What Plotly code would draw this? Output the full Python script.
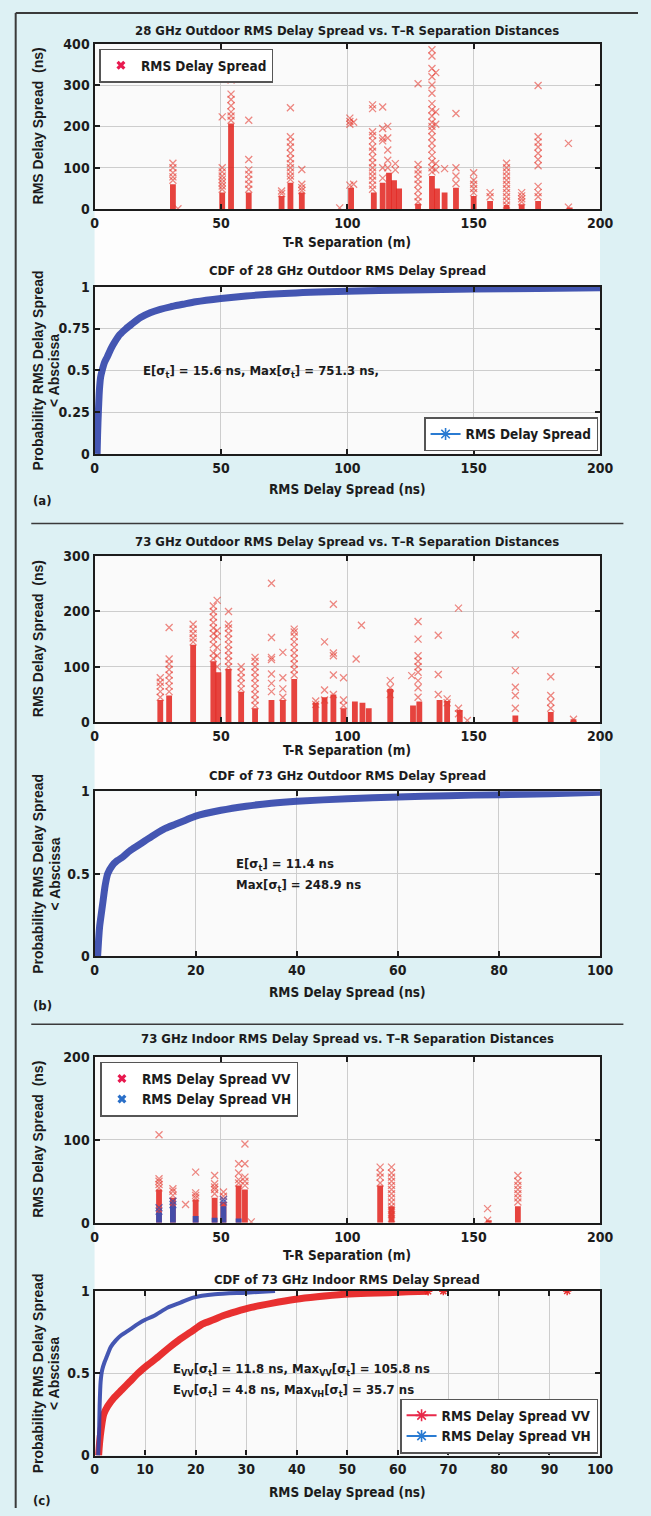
import plotly.graph_objects as go

# ---------------- data ----------------
# Panel (a) top: 28 GHz outdoor, dense lower parts of the columns
p28_bar_dist = [31, 50.5, 54, 61, 74, 77.5, 82, 101.5, 110.5, 114, 116.5, 118.5, 120.5,
                128, 133.5, 135.5, 138.5, 143, 150, 156.5, 163, 169, 175.5, 188]
p28_bar_top = [60, 40, 207, 40, 32, 64, 40, 52, 40, 64, 88, 70, 50,
               13, 80, 50, 40, 52, 32, 20, 10, 12, 20, 4]
# sparse single measurements above the dense parts
p28_mark_dist = [31, 33, 50.5, 54, 61, 74, 77.5, 82, 97, 101, 102.5, 110, 114, 116, 119,
                 128, 133.5, 135, 138.5, 143, 150, 156.5, 163, 169, 175.5, 187.5]
p28_mark_vals = [
    [70, 78, 88, 100, 111], [1], [48, 56, 64, 72, 80, 90, 100, 223],
    [215, 225, 235, 250, 265, 278, 312], [48, 60, 72, 84, 95, 120, 215], [38, 44],
    [72, 80, 90, 100, 110, 122, 135, 150, 162, 175, 245], [45, 52, 60, 96], [3],
    [58, 205, 212, 220], [60, 210],
    [48, 58, 70, 80, 90, 100, 112, 125, 140, 150, 165, 178, 187, 243, 252],
    [75, 100, 165, 172, 195, 247], [100, 118, 143, 172, 200], [95, 110],
    [18, 30, 45, 60, 72, 85, 95, 108, 303],
    [90, 100, 115, 130, 145, 160, 175, 190, 200, 210, 225, 240, 255, 280, 300, 320, 340, 370, 385],
    [95, 110, 205, 235, 330], [98], [62, 80, 100, 231], [40, 50, 60, 70, 88], [30, 40],
    [10, 20, 30, 40, 50, 60, 70, 80, 90, 100, 111], [18, 25, 32, 40],
    [30, 40, 55, 105, 120, 135, 150, 162, 175, 299], [5, 159]]

# Panel (a) bottom: CDF of 28 GHz outdoor RMS delay spread
cdf28_x = [1.0, 1.2, 1.5, 1.9, 2.4, 3.0, 4.0, 5.0, 6.5, 8.0, 10, 12.5, 15, 18, 22, 26,
           30, 35, 40, 50, 60, 75, 100, 125, 150, 175, 200]
cdf28_p = [0.0, 0.12, 0.25, 0.38, 0.46, 0.5, 0.55, 0.58, 0.63, 0.67, 0.714, 0.75, 0.78,
           0.815, 0.845, 0.865, 0.88, 0.895, 0.91, 0.93, 0.945, 0.96, 0.973, 0.98, 0.986,
           0.99, 0.994]

# Panel (b) top: 73 GHz outdoor
p73_bar_dist = [26, 29.5, 39, 47, 49, 53, 58, 63.5, 70, 74.5, 79, 87.5, 91, 94.5, 98.5,
                103, 106, 108.5, 117, 126, 128.5, 136.5, 139.5, 144.5, 166.5, 180.5, 189.5]
p73_bar_top = [40, 48, 140, 110, 90, 96, 55, 25, 40, 40, 78, 35, 45, 50, 25,
               37, 35, 25, 60, 30, 37, 40, 38, 22, 12, 18, 5]
p73_mark_dist = [26, 29.5, 39, 47, 48.5, 53, 58, 63.5, 70, 74.5, 79, 87.5, 91, 94.5, 98.5,
                 103.5, 105.6, 117, 125.5, 128, 136, 139.5, 144, 147.5, 166.5, 180.5, 189.5]
p73_mark_vals = [
    [45, 55, 65, 72, 80], [55, 65, 75, 85, 95, 105, 114, 171], [145, 152, 160, 168, 177],
    [115, 125, 140, 150, 160, 170, 180, 190, 200, 210], [100, 120, 135, 155, 165, 220],
    [100, 110, 120, 130, 140, 150, 160, 170, 177, 200], [60, 70, 80, 90, 100],
    [30, 40, 50, 60, 70, 80, 90, 100, 110, 117], [55, 70, 87, 113, 117, 153, 251],
    [45, 60, 80, 126], [85, 95, 105, 115, 125, 135, 145, 155, 163, 168], [32, 38],
    [40, 58, 145], [50, 85, 120, 125, 213], [30, 40, 80], [114], [175], [50, 62, 75], [84],
    [45, 62, 75, 90, 100, 110, 120, 150, 182], [50, 86, 157], [35, 42], [15, 25, 206], [3],
    [25, 48, 63, 93, 158], [25, 36, 48, 82], [5]]

# Panel (b) bottom: CDF of 73 GHz outdoor
cdf73_x = [0.6, 0.8, 1.0, 1.3, 1.7, 2.1, 2.6, 3.5, 4.5, 5.5, 7, 8.5, 10, 12, 14, 16, 18,
           20, 25, 30, 35, 40, 50, 60, 70, 80, 90, 100]
cdf73_p = [0.0, 0.1, 0.18, 0.25, 0.34, 0.43, 0.5, 0.55, 0.58, 0.6, 0.64, 0.67, 0.7, 0.74,
           0.775, 0.8, 0.825, 0.85, 0.885, 0.91, 0.928, 0.94, 0.955, 0.966, 0.974, 0.98,
           0.986, 0.994]

# Panel (c) top: 73 GHz indoor, VV and VH
pin_vv_bar_dist = [25.5, 31, 40, 47.5, 51, 57, 59.5, 113, 117.5, 156, 167.5]
pin_vv_bar_top = [40, 30, 28, 30, 25, 45, 40, 45, 20, 3, 20]
pin_vh_bar_dist = [25.5, 31, 40, 47.5, 51, 57]
pin_vh_bar_top = [12, 20, 8, 6, 20, 5]
pin_vv_mark_dist = [25.5, 31, 36, 40, 47.5, 51, 57, 59.5, 62, 113, 117.5, 155.5, 167.5]
pin_vv_mark_vals = [
    [42, 46, 50, 53, 106], [33, 38, 41], [22], [30, 33, 36, 61], [35, 40, 43, 47, 57],
    [28, 32, 37], [48, 52, 60, 71], [45, 50, 55, 71, 95], [1], [48, 55, 60, 67],
    [5, 10, 15, 20, 25, 30, 35, 40, 45, 50, 55, 60, 67], [3, 17], [25, 30, 35, 40, 45, 50, 57]]
pin_vh_mark_dist = [25.5, 31, 51]
pin_vh_mark_vals = [[14, 18], [22, 26], [25, 28]]

# Panel (c) bottom: CDF of 73 GHz indoor
cdf_vv_x = [0.8, 1.0, 1.3, 1.8, 2.6, 3.8, 5.4, 7, 8.6, 10.5, 12.6, 14.5, 16.6, 19, 21.4,
            23.5, 25.4, 28, 31, 35, 39.8, 44, 49.4, 54, 58, 62, 66]
cdf_vv_p = [0.0, 0.08, 0.16, 0.25, 0.3, 0.35, 0.4, 0.45, 0.5, 0.55, 0.6, 0.65, 0.7, 0.75,
            0.8, 0.825, 0.85, 0.875, 0.9, 0.925, 0.95, 0.965, 0.98, 0.987, 0.99, 0.995, 0.998]
cdf_vv_tail_x = [66, 69, 93.5]
cdf_vv_tail_p = [0.998, 0.999, 1.0]
cdf_vh_x = [0.7, 0.9, 1.0, 1.2, 1.5, 2.0, 2.4, 3.2, 4.2, 5.2, 6.2, 7.4, 8.6, 10, 11.8,
            14.5, 17, 19.5, 23.8, 30, 35.7]
cdf_vh_p = [0.0, 0.15, 0.3, 0.45, 0.52, 0.57, 0.6, 0.66, 0.7, 0.73, 0.75, 0.775, 0.8,
            0.825, 0.85, 0.9, 0.93, 0.96, 0.98, 0.99, 1.0]

# ---------------- styling / layout ----------------
W, H = 651, 1516
PX0, PX1 = 93, 612
RECTS = [(36, 203.3), (281.7, 450.7), (554, 721.7), (791.7, 958.3), (1060, 1227.7), (1296.7, 1463)]
COND = "Liberation Sans Narrow, Arial Narrow, DejaVu Sans Condensed, sans-serif"
REG = "Liberation Sans, Arial, sans-serif"
INK = "#1c1c1c"
BG = "#ddf1f4"
RED_BAR = "rgba(226,34,28,0.85)"
RED_X = "rgba(228,58,48,0.6)"
BLUE_BAR = "rgba(52,78,180,0.9)"
BLUE_X = "rgba(52,78,180,0.7)"
CDF_BLUE = "rgba(48,68,170,0.9)"
CDF_RED = "rgba(230,30,30,0.92)"


def fx(px):
    return px / W


def fy(py):
    return 1 - py / H


fig = go.Figure()


def expand(dists, vals):
    xs, ys = [], []
    for d, vs in zip(dists, vals):
        for v in vs:
            xs.append(d)
            ys.append(v)
    return xs, ys


def add_bars(dists, tops, color, ax):
    fig.add_trace(go.Bar(x=dists, y=tops, width=2.3, marker=dict(color=color, line=dict(width=0)),
                         xaxis="x" + ax, yaxis="y" + ax, showlegend=False, hoverinfo="skip"))


def add_marks(dists, vals, color, ax):
    xs, ys = expand(dists, vals)
    fig.add_trace(go.Scatter(x=xs, y=ys, mode="markers",
                             marker=dict(symbol="x-thin-open", size=7, color=color,
                                         line=dict(width=1.3, color=color)),
                             xaxis="x" + ax, yaxis="y" + ax, showlegend=False, hoverinfo="skip"))


def add_cdf(xs, ps, color, width, ax):
    fig.add_trace(go.Scatter(x=xs, y=ps, mode="lines",
                             line=dict(color=color, width=width, shape="spline", smoothing=0.7),
                             xaxis="x" + ax, yaxis="y" + ax, showlegend=False, hoverinfo="skip"))


# panel 1
add_bars(p28_bar_dist, p28_bar_top, RED_BAR, "")
add_marks(p28_mark_dist, p28_mark_vals, RED_X, "")
# panel 2
add_cdf(cdf28_x, cdf28_p, CDF_BLUE, 7, "2")
# panel 3
add_bars(p73_bar_dist, p73_bar_top, RED_BAR, "3")
add_marks(p73_mark_dist, p73_mark_vals, RED_X, "3")
# panel 4
add_cdf(cdf73_x, cdf73_p, CDF_BLUE, 7, "4")
# panel 5
add_bars(pin_vv_bar_dist, pin_vv_bar_top, RED_BAR, "5")
add_marks(pin_vv_mark_dist, pin_vv_mark_vals, RED_X, "5")
add_bars(pin_vh_bar_dist, pin_vh_bar_top, BLUE_BAR, "5")
add_marks(pin_vh_mark_dist, pin_vh_mark_vals, BLUE_X, "5")
# panel 6
add_cdf(cdf_vv_x, cdf_vv_p, CDF_RED, 7, "6")
fig.add_trace(go.Scatter(x=cdf_vv_tail_x, y=cdf_vv_tail_p, mode="markers",
                         marker=dict(symbol="asterisk-open", size=7, color=CDF_RED,
                                     line=dict(width=1.5, color=CDF_RED)),
                         xaxis="x6", yaxis="y6", showlegend=False, hoverinfo="skip"))
add_cdf(cdf_vh_x, cdf_vh_p, CDF_BLUE, 4, "6")


# legend-only entries
def legend_marker(name, color, legend):
    fig.add_trace(go.Scatter(x=[None], y=[None], mode="markers", name=name, legend=legend,
                             marker=dict(symbol="x", size=8, color=color, line=dict(width=0))))


def legend_line(name, color, legend):
    fig.add_trace(go.Scatter(x=[None], y=[None], mode="lines+markers", name=name, legend=legend,
                             line=dict(color=color, width=2),
                             marker=dict(symbol="asterisk-open", size=10, color=color,
                                         line=dict(width=1.6, color=color))))


legend_marker("RMS Delay Spread", "#e8194f", "legend")
legend_line("RMS Delay Spread", "#2a7bd2", "legend2")
legend_marker("RMS Delay Spread VV", "#e8194f", "legend3")
legend_marker("RMS Delay Spread VH", "#2a6fc8", "legend3")
legend_line("RMS Delay Spread VV", "#e8294a", "legend4")
legend_line("RMS Delay Spread VH", "#2a7bd2", "legend4")

tickfont = dict(family=COND, size=14, color=INK, weight="bold")
xranges = [[0, 200], [0, 200], [0, 200], [0, 100], [0, 200], [0, 100]]
xticks = [[0, 50, 100, 150, 200]] * 3 + [[0, 20, 40, 60, 80, 100], [0, 50, 100, 150, 200],
                                         list(range(0, 101, 10))]
yranges = [[0, 400], [0, 1], [0, 300], [0, 1], [0, 200], [0, 1]]
yticks = [[0, 100, 200, 300, 400], [0, 0.25, 0.5, 0.75, 1], [0, 100, 200, 300],
          [0, 0.5, 1], [0, 100, 200], [0, 0.5, 1]]
ytext = [["0", "100", "200", "300", "400"], ["0", "0.25", "0.5", "0.75", "1"],
         ["0", "100", "200", "300"], ["0", "0.5", "1"], ["0", "100", "200"], ["0", "0.5", "1"]]

common = dict(showline=True, linecolor=INK, linewidth=2.2, mirror="ticks", ticks="inside",
              ticklen=5, tickwidth=1.5, tickcolor=INK, showgrid=True, gridcolor="#cdcdcd",
              gridwidth=1.2, zeroline=False, tickfont=tickfont, fixedrange=True)

layout = dict(width=W, height=H, margin=dict(l=0, r=0, t=0, b=0), paper_bgcolor=BG,
              plot_bgcolor="#fafafa", barmode="overlay", showlegend=True)

for i, (top, bot) in enumerate(RECTS):
    sfx = "" if i == 0 else str(i + 1)
    layout["xaxis" + sfx] = dict(domain=[fx(PX0), fx(PX1)], anchor="y" + sfx, range=xranges[i],
                                 tickvals=xticks[i], ticktext=[str(v) for v in xticks[i]], **common)
    layout["yaxis" + sfx] = dict(domain=[fy(bot), fy(top)], anchor="x" + sfx, range=yranges[i],
                                 tickvals=yticks[i], ticktext=ytext[i], **common)

legfont = dict(family=COND, size=13.5, color=INK, weight="bold")
legbox = dict(bgcolor="#ffffff", bordercolor="#555555", borderwidth=1.5, font=legfont,
              tracegroupgap=0, itemclick=False, itemdoubleclick=False)
layout["legend"] = dict(x=fx(98), y=fy(41), xanchor="left", yanchor="top", **legbox)
layout["legend2"] = dict(x=fx(610), y=fy(448), xanchor="right", yanchor="bottom", **legbox)
layout["legend3"] = dict(x=fx(99), y=fy(1065), xanchor="left", yanchor="top", **legbox)
layout["legend4"] = dict(x=fx(610), y=fy(1461), xanchor="right", yanchor="bottom", **legbox)

# white strips between the paired plots, frame and separator lines
shapes = []
for a, b in [(0, 1), (2, 3), (4, 5)]:
    shapes.append(dict(type="rect", xref="paper", yref="paper", x0=fx(PX0), x1=fx(PX1),
                       y0=fy(RECTS[b][0]), y1=fy(RECTS[a][1]), fillcolor="#fdfdfd",
                       line=dict(width=0), layer="below"))
shapes.append(dict(type="line", xref="paper", yref="paper", x0=fx(12), x1=1, y0=fy(5), y1=fy(5),
                   line=dict(color="#3a3a3a", width=2)))
shapes.append(dict(type="line", xref="paper", yref="paper", x0=fx(12), x1=fx(12), y0=fy(5), y1=0,
                   line=dict(color="#3a3a3a", width=2)))
for ys in [521, 1027]:
    shapes.append(dict(type="line", xref="paper", yref="paper", x0=fx(28), x1=fx(636),
                       y0=fy(ys), y1=fy(ys), line=dict(color="#3a3a3a", width=1.5)))
layout["shapes"] = shapes

ann = []


def text(x, y, s, size=13.5, family=COND, angle=0, xanchor="center"):
    ann.append(dict(x=fx(x), y=fy(y), xref="paper", yref="paper", text=s, showarrow=False,
                    xanchor=xanchor, yanchor="middle", textangle=angle,
                    font=dict(family=family, size=size, color=INK, weight="bold")))


cx = (PX0 + PX1) / 2
titles = ["28 GHz Outdoor RMS Delay Spread vs. T\u2013R Separation Distances",
          "CDF of 28 GHz Outdoor RMS Delay Spread",
          "73 GHz Outdoor RMS Delay Spread vs. T\u2013R Separation Distances",
          "CDF of 73 GHz Outdoor RMS Delay Spread",
          "73 GHz Indoor RMS Delay Spread vs. T\u2013R Separation Distances",
          "CDF of 73 GHz Indoor RMS Delay Spread"]
title_y = [23, 265, 539, 776, 1041, 1285]
xtitle = ["T-R Separation (m)", "RMS Delay Spread (ns)"] * 3
xtitle_y = [237, 486, 750, 995, 1260, 1500]
for i in range(6):
    text(cx, title_y[i], titles[i], size=13)
    text(cx, xtitle_y[i], xtitle[i], size=13.5)
    top, bot = RECTS[i]
    mid = (top + bot) / 2
    if i % 2 == 0:
        text(35, mid, "RMS Delay Spread  (ns)", size=14, family=REG, angle=-90)
    else:
        text(35, mid, "Probability RMS Delay Spread", size=14, family=REG, angle=-90)
        text(52, mid, "&lt; Abscissa", size=14, family=REG, angle=-90)

text(28, 498, "(a)", size=13, xanchor="left")
text(28, 1008, "(b)", size=13, xanchor="left")
text(28, 1508, "(c)", size=13, xanchor="left")

text(141, 367, "E[\u03c3<sub>t</sub>] = 15.6 ns, Max[\u03c3<sub>t</sub>] = 751.3 ns,", size=13,
     xanchor="left")
text(236, 866, "E[\u03c3<sub>t</sub>] = 11.4 ns", size=13, xanchor="left")
text(236, 887, "Max[\u03c3<sub>t</sub>] = 248.9 ns", size=13, xanchor="left")
text(171, 1376, "E<sub>VV</sub>[\u03c3<sub>t</sub>] = 11.8 ns, Max<sub>VV</sub>[\u03c3<sub>t</sub>] = 105.8 ns",
     size=13, xanchor="left")
text(171, 1397, "E<sub>VV</sub>[\u03c3<sub>t</sub>] = 4.8 ns, Max<sub>VH</sub>[\u03c3<sub>t</sub>] = 35.7 ns",
     size=13, xanchor="left")
layout["annotations"] = ann

fig.update_layout(**layout)
fig.write_html("out.html", config={"displayModeBar": False},
               post_script=("document.body.style.margin='0';"
                            "document.body.style.overflow='hidden';"
                            "document.documentElement.style.overflow='hidden';"
                            "document.body.style.background='" + BG + "';"))
